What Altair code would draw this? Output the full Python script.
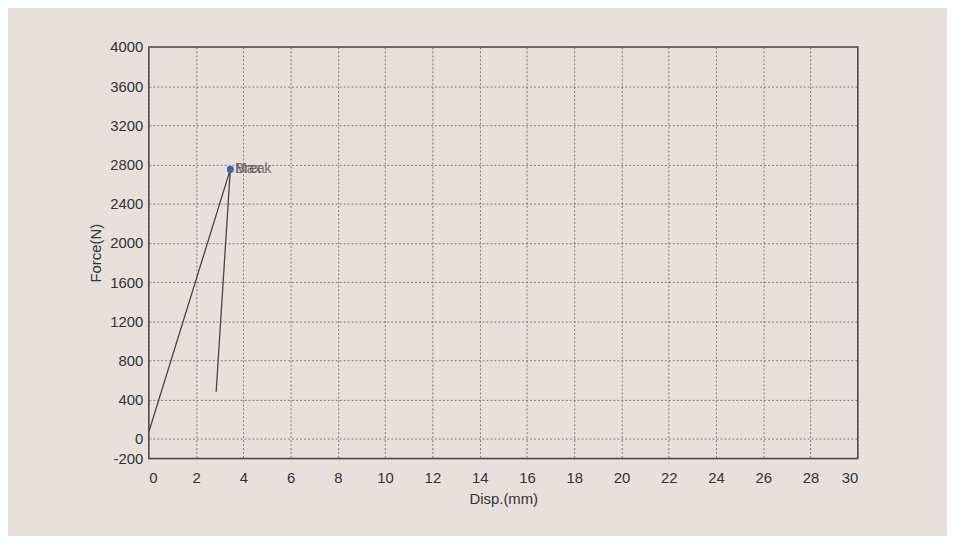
import altair as alt
import pandas as pd

disp = [0.0, 3.45, 2.85]
force = [70, 2750, 480]
order = [0, 1, 2]

peak_disp = [3.45, 3.45]
peak_force = [2750, 2750]
peak_label = ["Max", "Break"]

x_ticks = list(range(0, 31, 2))
y_ticks = [-200] + list(range(0, 4001, 400))

curve = pd.DataFrame({"disp": disp, "force": force, "order": order})
peaks = pd.DataFrame({"disp": peak_disp, "force": peak_force, "label": peak_label})

xs = alt.Scale(domain=[0, 30], nice=False, zero=False)
ys = alt.Scale(domain=[-200, 4000], nice=False, zero=False)

xax = alt.Axis(values=x_ticks, tickCount=len(x_ticks), title="Disp.(mm)", grid=True,
               gridDash=[2, 2], gridColor="#6a6466", gridWidth=0.8, domain=False, ticks=False,
               labelExpr="toString(datum.value)", labelOverlap=False,
               labelFontSize=15, titleFontSize=15, labelPadding=12, titlePadding=6,
               labelColor="#333", titleColor="#333", labelFont="Liberation Sans",
               titleFont="Liberation Sans", titleFontWeight="normal")
yax = alt.Axis(values=y_ticks, tickCount=len(y_ticks), title="Force(N)", grid=True,
               gridDash=[2, 2], gridColor="#6a6466", gridWidth=0.8, domain=False, ticks=False,
               labelExpr="toString(datum.value)", labelOverlap=False,
               labelFontSize=15, titleFontSize=15, labelPadding=6, titlePadding=6,
               labelColor="#333", titleColor="#333", labelFont="Liberation Sans",
               titleFont="Liberation Sans", titleFontWeight="normal")

line = alt.Chart(curve).mark_line(color="#4a4446", strokeWidth=1.3).encode(
    x=alt.X("disp:Q", scale=xs, axis=xax),
    y=alt.Y("force:Q", scale=ys, axis=yax),
    order="order:Q",
)

pt = alt.Chart(peaks).mark_point(filled=True, color="#3f63b0", size=45, opacity=1).encode(
    x=alt.X("disp:Q", scale=xs),
    y=alt.Y("force:Q", scale=ys),
)

txt = alt.Chart(peaks).mark_text(align="left", baseline="middle", dx=5, fontSize=14,
                                 font="Liberation Sans", color="#5a5650", opacity=0.8).encode(
    x=alt.X("disp:Q", scale=xs),
    y=alt.Y("force:Q", scale=ys),
    text="label:N",
)

chart = alt.layer(line, pt, txt).properties(
    width=715, height=415,
    background="#e9dfdc",
    padding={"left": 142, "top": 37, "right": 90, "bottom": 76},
    autosize=alt.AutoSizeParams(type="none"),
).configure_view(stroke="#4a4446", strokeWidth=1.5)

chart.save("out.html", embed_options={"renderer": "svg", "actions": False})
